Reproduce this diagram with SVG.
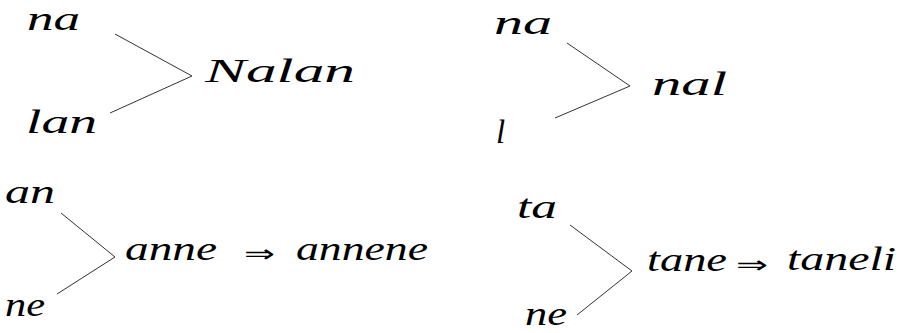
<svg xmlns="http://www.w3.org/2000/svg" width="908" height="333" viewBox="0 0 908 333">
<style>
.t{font-family:"Liberation Serif","DejaVu Serif",serif;font-style:italic;font-size:33px;fill:#000}
.ar{font-family:"DejaVu Sans",sans-serif;font-size:24px;fill:#000}
.c{fill:none;stroke:#333;stroke-width:1}
</style>
<rect width="908" height="333" fill="#fff"/>
<g id="connectors">
<polyline class="c" points="115,34 192,76 110,113"/>
<polyline class="c" points="567,43 630,86 555,118"/>
<polyline class="c" points="61,213 115,257 57,294"/>
<polyline class="c" points="570,225 632,271 577,315"/>
</g>
<g id="p1-na"><text class="t" x="27" y="30" textLength="53" lengthAdjust="spacingAndGlyphs">na</text></g>
<g id="p1-lan"><text class="t" x="26" y="133" textLength="71" lengthAdjust="spacingAndGlyphs">lan</text></g>
<g id="p1-Nalan"><text class="t" x="205" y="82" textLength="150" lengthAdjust="spacingAndGlyphs">Nalan</text></g>
<g id="p2-na"><text class="t" x="494" y="34" textLength="58" lengthAdjust="spacingAndGlyphs">na</text></g>
<g id="p2-l"><text class="t" x="496" y="143" font-size="36">l</text></g>
<g id="p2-nal"><text class="t" x="652" y="95" textLength="75" lengthAdjust="spacingAndGlyphs">nal</text></g>
<g id="p3-an"><text class="t" x="5" y="203" textLength="50" lengthAdjust="spacingAndGlyphs">an</text></g>
<g id="p3-ne"><text class="t" x="5" y="316" textLength="40" lengthAdjust="spacingAndGlyphs">ne</text></g>
<g id="p3-anne"><text class="t" x="125" y="260" textLength="92" lengthAdjust="spacingAndGlyphs">anne</text></g>
<g id="p3-arrow"><text class="ar" x="244" y="262" textLength="31" lengthAdjust="spacingAndGlyphs">⇒</text></g>
<g id="p3-annene"><text class="t" x="296" y="260" textLength="132" lengthAdjust="spacingAndGlyphs">annene</text></g>
<g id="p4-ta"><text class="t" x="517" y="218" textLength="40" lengthAdjust="spacingAndGlyphs">ta</text></g>
<g id="p4-ne"><text class="t" x="525" y="325" textLength="42" lengthAdjust="spacingAndGlyphs">ne</text></g>
<g id="p4-tane"><text class="t" x="647" y="271" textLength="80" lengthAdjust="spacingAndGlyphs">tane</text></g>
<g id="p4-arrow"><text class="ar" x="736" y="273" textLength="32" lengthAdjust="spacingAndGlyphs">⇒</text></g>
<g id="p4-taneli"><text class="t" x="787" y="270" textLength="109" lengthAdjust="spacingAndGlyphs">taneli</text></g>
</svg>
